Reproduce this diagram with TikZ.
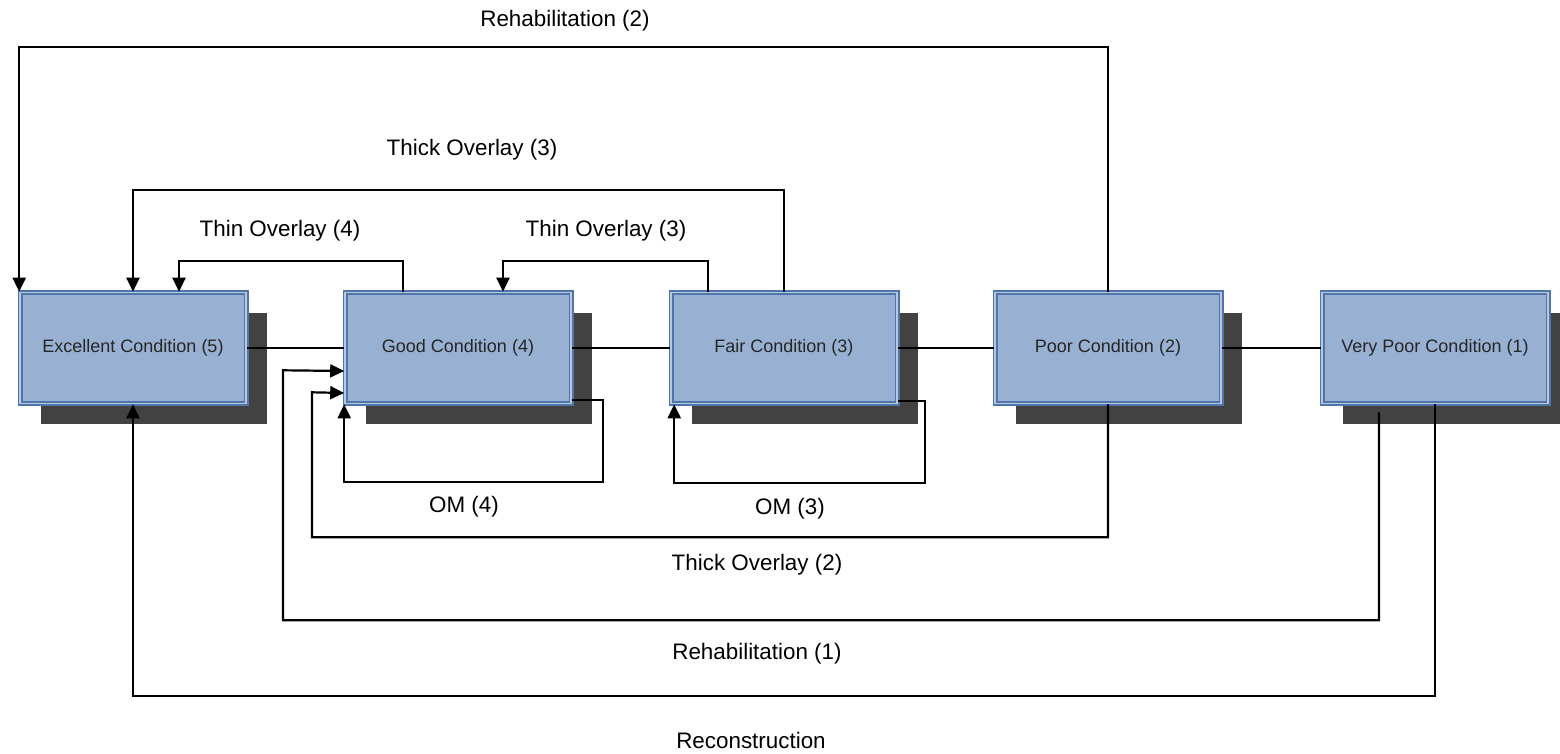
\documentclass[tikz,border=0pt]{standalone}
\usepackage{fontspec}
\setmainfont{Liberation Sans}
\usetikzlibrary{arrows.meta,calc,shadows}
\definecolor{boxfill}{RGB}{152,177,210}
\definecolor{boxline}{RGB}{79,117,170}
\definecolor{shadowgrey}{RGB}{66,66,66}
\begin{document}
\begin{tikzpicture}[x=0.5pt, y=-0.5pt,
    state/.style={rectangle, draw=boxline, fill=boxfill, line width=0.8pt,
      double=boxfill!70!white, double distance=0.9pt,
      minimum width=113pt, minimum height=55.5pt, inner sep=0pt,
      text=black!85, font=\fontsize{9}{11}\selectfont,
      drop shadow={shadow xshift=10.5pt, shadow yshift=-10.5pt, fill=shadowgrey, opacity=1}},
    flow/.style={line width=1.1pt, -{Triangle[length=7pt, width=6.5pt]}},
    lbl/.style={font=\fontsize{11.2}{13}\selectfont}]
  \useasboundingbox (0,0) rectangle (1560,754);
  % the five condition states
  \node[state] (exc)   at (133,348)    {Excellent Condition (5)};
  \node[state] (good)  at (458,348)    {Good Condition (4)};
  \node[state] (fair)  at (784,348)    {Fair Condition (3)};
  \node[state] (poor)  at (1108,348)   {Poor Condition (2)};
  \node[state] (vpoor) at (1435,348)   {Very Poor Condition (1)};

  % plain links between neighbours
  \draw[line width=1.1pt] (exc.east) -- (good.west);
  \draw[line width=1.1pt] (good.east) -- (fair.west);
  \draw[line width=1.1pt] (fair.east) -- (poor.west);
  \draw[line width=1.1pt] (poor.east) -- (vpoor.west);

  % treatments above the states
  \draw[flow] (poor.north) -- ++(0,-245) -| (exc.north west);
  \node[lbl] (rehab2) at (565,21) {Rehabilitation (2)};

  \draw[flow] (fair.north) -- ++(0,-102) -| (exc.north);
  \node[lbl] (thick3) at (472,150) {Thick Overlay (3)};

  \draw[flow] ($(good.north)+(-55,0)$) -- ++(0,-31) -| ($(exc.north)+(46,0)$);
  \node[lbl] (thin4) at (280,231) {Thin Overlay (4)};

  \draw[flow] ($(fair.north)+(-76,0)$) -- ++(0,-31) -| ($(good.north)+(45,0)$);
  \node[lbl] (thin3) at (606,231) {Thin Overlay (3)};

  % maintenance loops
  \draw[flow] ($(good.south east)+(0,-4)$) -| ($(good.south east)+(31,78)$) -| (good.south west);
  \node[lbl] (om4) at (464,507) {OM (4)};

  \draw[flow] ($(fair.south east)+(0,-3)$) -| ($(fair.south east)+(27,79)$) -| ($(fair.south west)+(4,0)$);
  \node[lbl] (om3) at (790,509) {OM (3)};

  % treatments below the states
  \draw[flow] (poor.south) -- ++(0,133) -| ++(-796,-145) -- ($(good.west)+(0,45)$);
  \node[lbl] (thick2) at (757,565) {Thick Overlay (2)};

  \draw[flow] ($(vpoor.south)+(-56,8)$) -- ++(0,208) -| ++(-1096,-250) -- ($(good.west)+(0,23)$);
  \node[lbl] (rehab1) at (757,654) {Rehabilitation (1)};

  \draw[flow] (vpoor.south) -- ++(0,292) -| (exc.south);
  \node[lbl] (recon) at (751,740) {Reconstruction};
\end{tikzpicture}
\end{document}
